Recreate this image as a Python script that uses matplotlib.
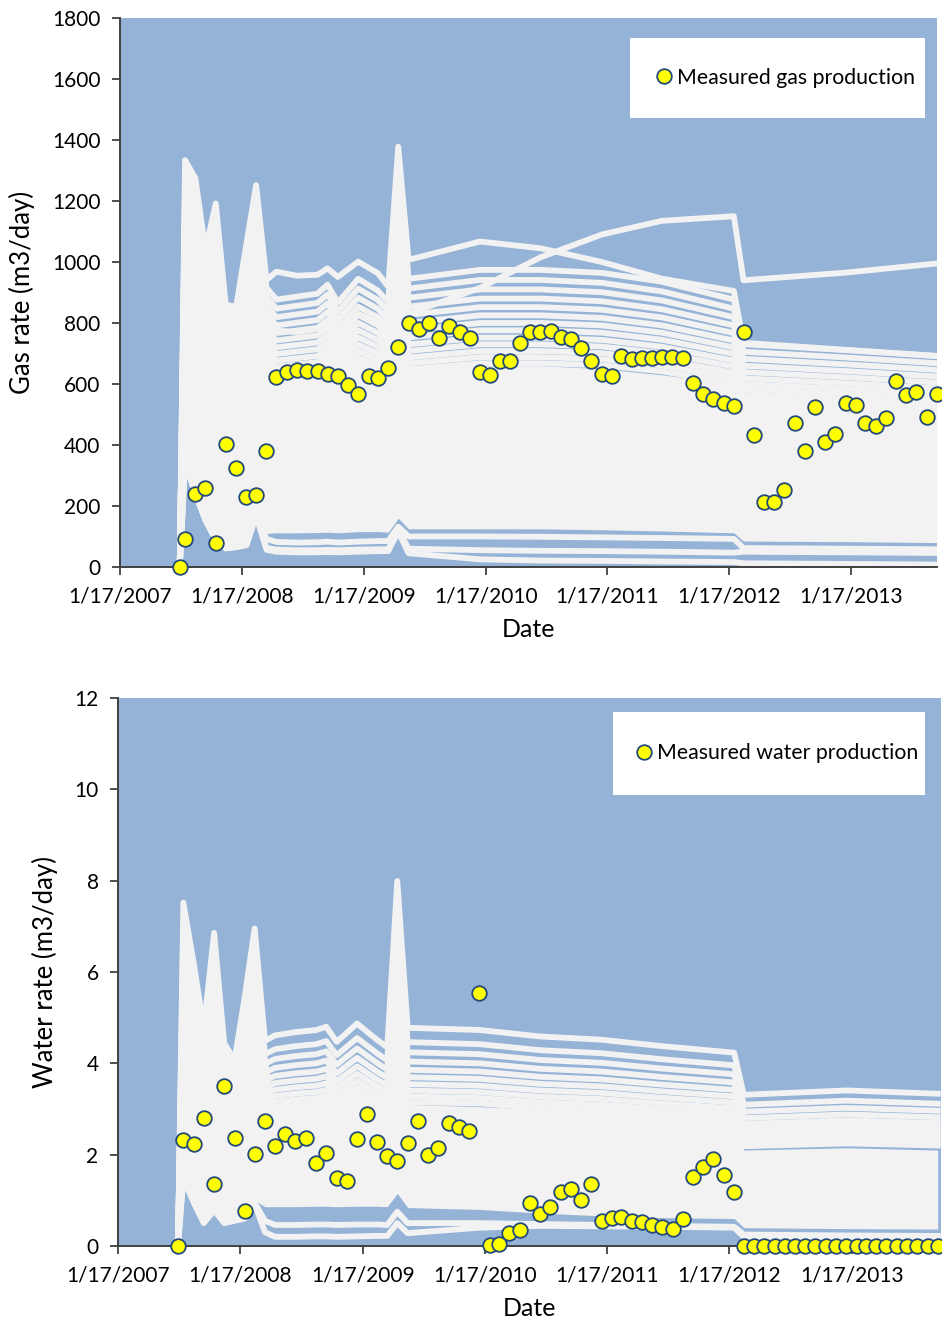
"""
Gas and water production: simulated ensemble (white) vs measured data (yellow).
"""

import matplotlib
matplotlib.use('Agg')
import matplotlib.pyplot as plt
import pandas as pd
from matplotlib.patches import Rectangle

plt.rcParams['font.family'] = ['Lato', 'DejaVu Sans']

# ---- measured data (one value per month-end, plus the start date) ----
meas_dates = [pd.Timestamp('2007-07-15')] + list(
    pd.date_range('2007-07-31', periods=75, freq=pd.offsets.MonthEnd()))

gas_measured = [0, 92, 240, 260, 78, 402, 326, 228, 237, 381,
                624, 639, 645, 643, 642, 633, 627, 597, 568, 627,
                620, 651, 720, 799, 780, 799, 752, 790, 770, 752,
                640, 630, 674, 674, 733, 771, 771, 774, 753, 746,
                717, 675, 633, 625, 693, 683, 685, 686, 687, 689,
                686, 602, 567, 551, 539, 527, 771, 432, 213, 213,
                253, 473, 379, 526, 411, 436, 537, 530, 471, 463,
                490, 610, 564, 575, 491, 567]

water_measured = [0, 2.32, 2.24, 2.81, 1.36, 3.50, 2.37, 0.77, 2.01, 2.73,
                  2.20, 2.45, 2.30, 2.37, 1.81, 2.03, 1.48, 1.42, 2.34, 2.88,
                  2.27, 1.98, 1.86, 2.25, 2.74, 2.00, 2.15, 2.69, 2.60, 2.51,
                  5.54, 0.02, 0.05, 0.28, 0.35, 0.95, 0.69, 0.85, 1.19, 1.25,
                  1.00, 1.35, 0.55, 0.61, 0.63, 0.55, 0.53, 0.47, 0.42, 0.38,
                  0.58, 1.51, 1.74, 1.90, 1.55, 1.19,
                  0, 0, 0, 0, 0, 0, 0, 0, 0, 0,
                  0, 0, 0, 0, 0, 0, 0, 0, 0, 0]

# ---- simulated ensemble, read at the report dates ----
sim_dates = pd.to_datetime([
    '2007-07-15', '2007-07-31', '2007-08-31', '2007-09-30', '2007-10-31',
    '2007-11-30', '2007-12-31', '2008-01-31', '2008-02-29', '2008-03-31',
    '2008-04-30', '2008-06-30', '2008-08-31', '2008-09-30', '2008-10-31',
    '2008-12-31', '2009-02-28', '2009-03-31', '2009-04-30', '2009-05-31',
    '2009-12-31', '2010-06-30', '2010-12-31', '2011-06-30', '2012-01-31',
    '2012-02-29', '2012-12-31', '2013-09-30'])

# gas: upper members = level (Dec 2009) x shape
gas_upper_shape = [0, 1.30, 1.25, 1.00, 1.18, 0.86, 0.85, 1.05, 1.25, 0.94,
                   0.90, 0.91, 0.92, 0.95, 0.89, 0.97, 0.93, 0.89, 1.38, 0.97,
                   1.00, 1.00, 0.99, 0.96, 0.90, 0.75, 0.73, 0.71]
gas_upper_levels = [974, 941, 910, 880, 852, 825, 800, 776, 752, 730,
                    708, 688, 668]
gas_top_member = [0, 1334, 1274, 1040, 1192, 860, 853, 1060, 1252, 941,
                  968, 955, 958, 979, 951, 1001, 963, 919, 1378, 1007,
                  1067, 1045, 1000, 945, 905, 735, 712, 692]
gas_rising_member = [0, 1100, 1050, 850, 1000, 740, 730, 880, 1050, 800,
                     775, 770, 780, 805, 760, 830, 800, 770, 1150, 830,
                     915, 1015, 1090, 1135, 1150, 940, 965, 995]
gas_core_top = [0, 1320, 1260, 1030, 1185, 860, 850, 1060, 1245, 935,
                620, 620, 625, 645, 605, 660, 630, 600, 1360, 650,
                660, 660, 650, 630, 600, 560, 545, 530]
gas_core_bottom = [0, 345, 241, 154, 90, 61, 65, 72, 170, 110,
                   112, 112, 113, 114, 112, 116, 116, 114, 160, 125,
                   125, 125, 122, 118, 112, 85, 83, 80]
gas_low_a = [0, 345, 241, 154, 92, 63, 67, 74, 176, 92,
             82, 80, 81, 83, 80, 83, 85, 85, 132, 100,
             100, 99, 97, 95, 92, 62, 60, 58]
gas_low_b = [0, 345, 241, 154, 90, 61, 65, 72, 170, 62,
             57, 55, 55, 56, 55, 57, 58, 58, 122, 60,
             55, 53, 52, 50, 47, 50, 48, 46]
gas_low_c = [0, 345, 241, 154, 90, 61, 65, 72, 170, 56,
             50, 48, 48, 49, 48, 50, 52, 52, 116, 45,
             25, 21, 20, 18, 16, 12, 10, 8]

# water
water_upper_shape = [0, 1.59, 1.31, 1.01, 1.45, 0.94, 0.86, 1.16, 1.47, 0.95,
                     0.975, 0.99, 1.00, 1.015, 0.945, 1.03, 0.955, 0.92, 1.69, 1.01,
                     1.00, 0.97, 0.955, 0.925, 0.895, 0.70, 0.72, 0.705]
water_upper_levels = [4.73, 4.42, 4.20, 4.00, 3.82, 3.66, 3.51, 3.37,
                      3.24, 3.12]
water_core_top = [0, 7.4, 6.1, 4.7, 6.75, 4.4, 4.0, 5.4, 6.85, 4.4,
                  3.05, 3.1, 3.1, 3.15, 2.95, 3.2, 3.0, 2.9, 7.9, 3.1,
                  3.05, 3.0, 2.95, 2.85, 2.75, 2.1, 2.15, 2.1]
water_core_bottom = [0, 1.55, 1.0, 0.55, 0.82, 0.55, 0.60, 0.66, 1.0, 0.86,
                     0.86, 0.86, 0.87, 0.87, 0.86, 0.87, 0.87, 0.86, 1.15, 0.84,
                     0.80, 0.72, 0.66, 0.62, 0.60, 0.40, 0.38, 0.37]
water_low_a = [0, 1.50, 0.97, 0.52, 0.80, 0.52, 0.57, 0.62, 0.95, 0.55,
               0.46, 0.46, 0.47, 0.47, 0.46, 0.47, 0.47, 0.46, 0.75, 0.50,
               0.50, 0.48, 0.46, 0.44, 0.42, 0.25, 0.23, 0.22]
water_low_b = [0, 1.48, 0.95, 0.50, 0.78, 0.50, 0.55, 0.60, 0.92, 0.30,
               0.20, 0.20, 0.21, 0.21, 0.20, 0.21, 0.22, 0.22, 0.50, 0.28,
               0.40, 0.44, 0.43, 0.42, 0.40, 0.20, 0.19, 0.18]

tick_dates = pd.to_datetime(['2007-01-17', '2008-01-17', '2009-01-17', '2010-01-17',
                             '2011-01-17', '2012-01-17', '2013-01-17'])
tick_labels = ['1/17/2007', '1/17/2008', '1/17/2009', '1/17/2010',
               '1/17/2011', '1/17/2012', '1/17/2013']

BLUE = '#95B3D7'
SIM = '#F2F2F2'
AXIS = '#404040'
EDGE = '#244A7A'
LW = 4.2


def draw_panel(ax, shape, levels, extra, core_bottom, core_top, measured,
               label, ylabel, ymax, ystep, xmax, legend_box, legend_anchor):
    ax.set_facecolor(BLUE)
    ax.fill_between(sim_dates, core_bottom, core_top, color=SIM, lw=0, zorder=1)
    for lev in levels:
        ax.plot(sim_dates, [lev * s for s in shape], color=SIM, lw=LW,
                solid_joinstyle='round', zorder=2)
    for member in extra:
        ax.plot(sim_dates, member, color=SIM, lw=LW,
                solid_joinstyle='round', zorder=2)
    ax.plot(meas_dates, measured, 'o', ms=10.5, mfc='#FFFF00', mec=EDGE,
            mew=1.3, ls='none', zorder=6, clip_on=False, label=label)

    ax.set_xlim(pd.Timestamp('2007-01-17'), xmax)
    ax.set_ylim(0, ymax)
    ax.set_yticks([ystep * i for i in range(int(ymax / ystep) + 1)])
    ax.set_xticks(tick_dates)
    ax.set_xticklabels(tick_labels)
    ax.tick_params(direction='out', length=6, width=1.3, color=AXIS,
                   labelsize=15, pad=8)
    for s in ['top', 'right']:
        ax.spines[s].set_visible(False)
    for s in ['left', 'bottom']:
        ax.spines[s].set_color(AXIS)
        ax.spines[s].set_linewidth(1.4)
    ax.set_xlabel('Date', fontsize=18, labelpad=8)
    ax.set_ylabel(ylabel, fontsize=18.5, labelpad=12)

    ax.add_patch(Rectangle(legend_box[:2], legend_box[2], legend_box[3],
                           transform=ax.transAxes, fc='white', ec='none', zorder=7))
    leg = ax.legend(loc='center left', bbox_to_anchor=legend_anchor, frameon=False,
                    fontsize=15.3, handlelength=1.0, handletextpad=0.12,
                    borderpad=0, borderaxespad=0, numpoints=1)
    leg.set_zorder(8)


fig = plt.figure(figsize=(9.42, 13.21), dpi=100)
ax1 = fig.add_axes([0.1274, 0.5708, 0.8673, 0.4156])
ax2 = fig.add_axes([0.1253, 0.0568, 0.8737, 0.4148])

draw_panel(ax1, gas_upper_shape, gas_upper_levels,
           [gas_top_member, gas_rising_member, gas_low_a, gas_low_b, gas_low_c],
           gas_core_bottom, gas_core_top, gas_measured,
           'Measured gas production', 'Gas rate (m3/day)', 1800, 200,
           pd.Timestamp('2013-10-01'),
           (0.624, 0.818, 0.361, 0.146), (0.653, 0.891))

draw_panel(ax2, water_upper_shape, water_upper_levels,
           [water_low_a, water_low_b],
           water_core_bottom, water_core_top, water_measured,
           'Measured water production', 'Water rate (m3/day)', 12, 2,
           pd.Timestamp('2013-10-10'),
           (0.601, 0.823, 0.38, 0.152), (0.626, 0.8996))

fig.savefig('out.png', dpi=100)
